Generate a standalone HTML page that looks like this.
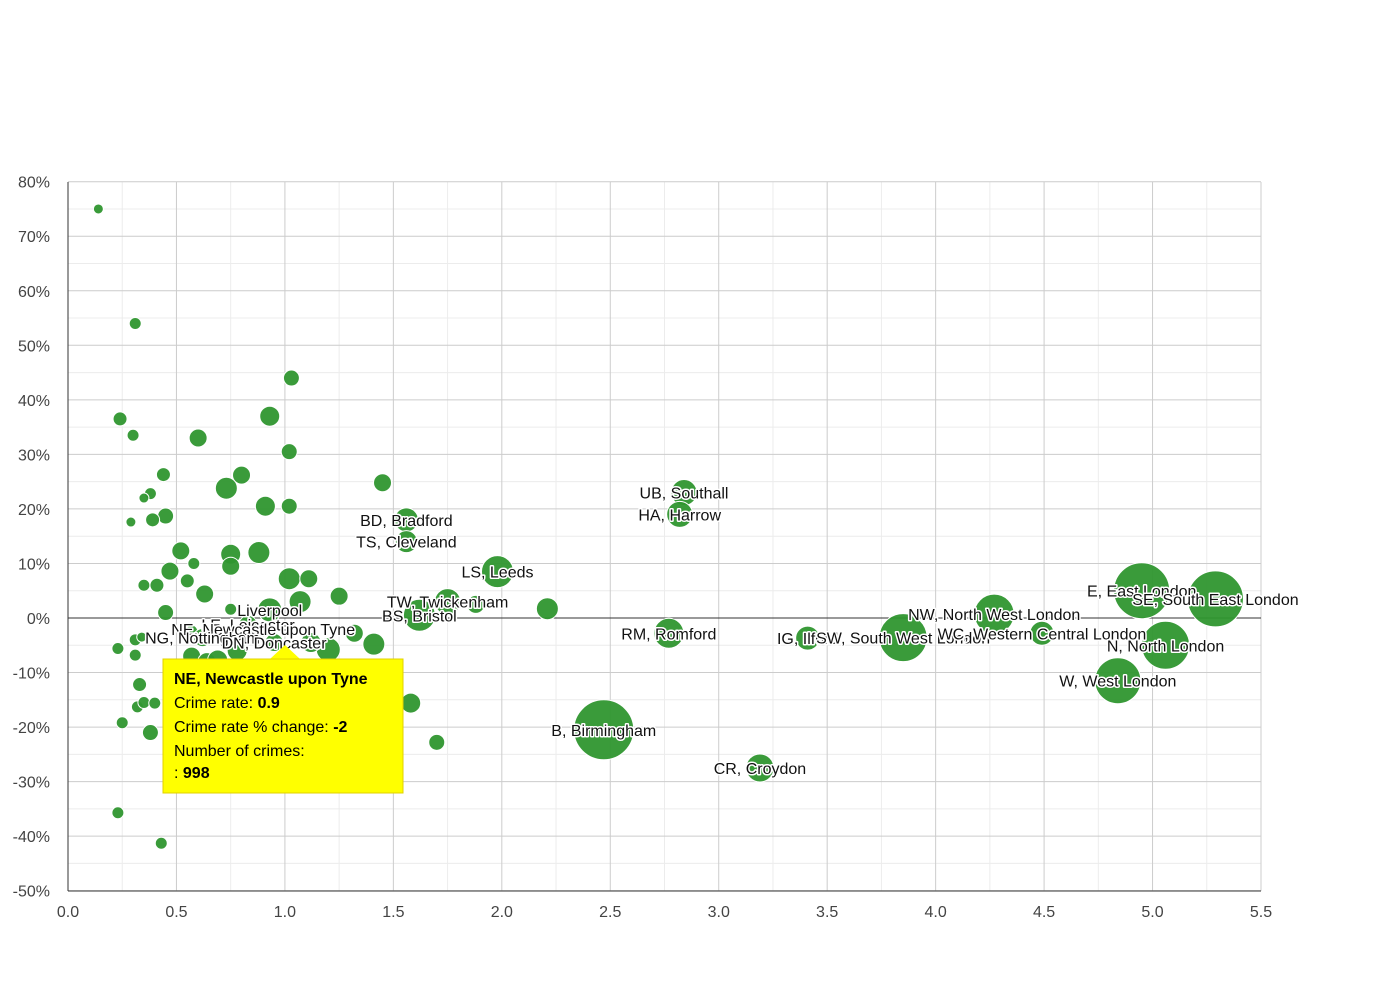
<!DOCTYPE html>
<html><head><meta charset="utf-8"><style>
body{margin:0;background:#fff;font-family:"Liberation Sans",Arial,sans-serif}
svg text{font-family:"Liberation Sans",Arial,sans-serif}
.lbl{font-size:16px;fill:#111;stroke:#fff;stroke-width:3px;paint-order:stroke;stroke-linejoin:round}
</style></head><body>
<svg id="chart" width="1390" height="980" xmlns="http://www.w3.org/2000/svg">
<g id="grid"></g><g id="axes"></g><g id="bubbles"></g><g id="labels"></g>
<g>
<path d="M270,659 L285,645 L300,659 Z" fill="#ffff00"/>
<rect x="163" y="659" width="240" height="134" fill="#ffff00" stroke="#e0d000" stroke-width="1"/>
<text x="174" y="684" font-size="16" font-weight="bold" fill="#000">NE, Newcastle upon Tyne</text>
<text x="174" y="708" font-size="16" fill="#000">Crime rate: <tspan font-weight="bold">0.9</tspan></text>
<text x="174" y="732" font-size="16" fill="#000">Crime rate % change: <tspan font-weight="bold">-2</tspan></text>
<text x="174" y="756" font-size="16" fill="#000">Number of crimes:</text>
<text x="174" y="778" font-size="16" fill="#000">: <tspan font-weight="bold">998</tspan></text>
</g>
</svg>
<script>
const rates=[0.14,0.31,0.24,0.30,0.60,0.93,1.03,1.02,0.44,0.80,0.73,0.38,0.35,0.45,0.39,0.29,0.91,1.02,1.45,0.52,0.75,0.88,0.58,0.75,0.47,1.02,1.11,0.35,0.41,0.55,0.63,1.25,0.45,0.75,1.07,0.23,0.31,0.34,0.31,0.57,0.57,0.64,0.69,0.78,1.32,1.41,1.20,1.12,0.33,0.32,0.35,0.40,0.25,0.38,1.58,1.70,0.23,0.43,
1.56,1.56,1.98,1.75,1.88,1.62,2.21,2.84,2.82,2.77,2.47,3.19,3.41,3.85,4.27,4.49,4.95,5.29,5.06,4.84,0.93,0.83,0.90,0.62,0.95];
const changes=[75,54,36.5,33.5,33,37,44,30.5,26.3,26.2,23.8,22.8,22,18.7,18,17.6,20.5,20.5,24.8,12.3,11.7,12,10,9.5,8.6,7.2,7.2,6,6,6.8,4.4,4,1,1.6,3,-5.6,-4,-3.5,-6.8,-2.4,-7,-8,-7.7,-6,-2.8,-4.8,-5.8,-4.5,-12.2,-16.3,-15.5,-15.6,-19.2,-21,-15.6,-22.8,-35.7,-41.3,
18,14,8.5,3,2.5,0.5,1.7,23,19,-2.8,-20.5,-27.5,-3.7,-3.6,0.7,-2.8,5,3.5,-5,-11.5,1.5,-1.2,-2,-3.6,-4.5];
const sizes=[5,6,7,6,9,10,8,8,7,9,11,6,5,8,7,5,10,8,9,9,10,11,6,9,9,11,9,6,7,7,9,9,8,6,11,6,6,5,6,6,9,9,10,10,9,11,12,10,7,6,6,6,6,8,10,8,6,6,
12,11,16,13,9,16,11,13,13,15,30,14,12,24,20,12,28,28,24,23,12,9,8,9,9];
const names=[];names[58]="BD, Bradford";names[59]="TS, Cleveland";names[60]="LS, Leeds";names[61]="TW, Twickenham";names[63]="BS, Bristol";names[65]="UB, Southall";names[66]="HA, Harrow";names[67]="RM, Romford";names[68]="B, Birmingham";names[69]="CR, Croydon";names[70]="IG, Ilford";names[71]="SW, South West London";names[72]="NW, North West London";names[73]="WC, Western Central London";names[74]="E, East London";names[75]="SE, South East London";names[76]="N, North London";names[77]="W, West London";names[78]="Liverpool";names[79]="LE, Leicester";names[80]="NE, Newcastle upon Tyne";names[81]="NG, Nottingham";names[82]="DN, Doncaster";
const xTicks=[0,0.5,1,1.5,2,2.5,3,3.5,4,4.5,5,5.5];
const yTicks=[80,70,60,50,40,30,20,10,0,-10,-20,-30,-40,-50];
const NS="http://www.w3.org/2000/svg";
const X=v=>68+v*(1193/5.5), Y=p=>618-p*(709/130);
function mk(tag,attrs,parent){const e=document.createElementNS(NS,tag);for(const k in attrs)e.setAttribute(k,attrs[k]);parent.appendChild(e);return e;}
const grid=document.getElementById('grid'),axes=document.getElementById('axes'),bub=document.getElementById('bubbles'),lab=document.getElementById('labels');
for(let v=0.25;v<5.5;v+=0.5){const l=mk('line',{x1:X(v),x2:X(v),y1:182,y2:891,stroke:'#ececec'},grid);}
for(let p=-45;p<80;p+=10){const l=mk('line',{x1:68,x2:1261,y1:Y(p),y2:Y(p),stroke:'#ececec'},grid);}
xTicks.forEach(v=>{const l=mk('line',{x1:X(v),x2:X(v),y1:182,y2:891,stroke:'#ccc'},grid);
const t=mk('text',{x:X(v),y:917,'text-anchor':'middle','font-size':16,fill:'#444'},axes);t.textContent=v.toFixed(1);});
yTicks.forEach(p=>{const l=mk('line',{x1:68,x2:1261,y1:Y(p),y2:Y(p),stroke:p===0?'#333':'#ccc'},grid);
const t=mk('text',{x:50,y:Y(p)+6,'text-anchor':'end','font-size':16,fill:'#444'},axes);t.textContent=p+'%';});
const ax=mk('line',{x1:68,x2:68,y1:182,y2:891,stroke:'#333'},axes);
const bx=mk('line',{x1:68,x2:1261,y1:891,y2:891,stroke:'#333'},axes);
rates.forEach((r,i)=>{const c=mk('circle',{cx:X(r),cy:Y(changes[i]),r:sizes[i],fill:'#2f962f','fill-opacity':0.95,stroke:'#fff','stroke-width':1},bub);


if(names[i]){const t=mk('text',{x:X(r),y:Y(changes[i])+6,'text-anchor':'middle',class:'lbl'},lab);t.textContent=names[i];

}});
</script>
</body></html>
